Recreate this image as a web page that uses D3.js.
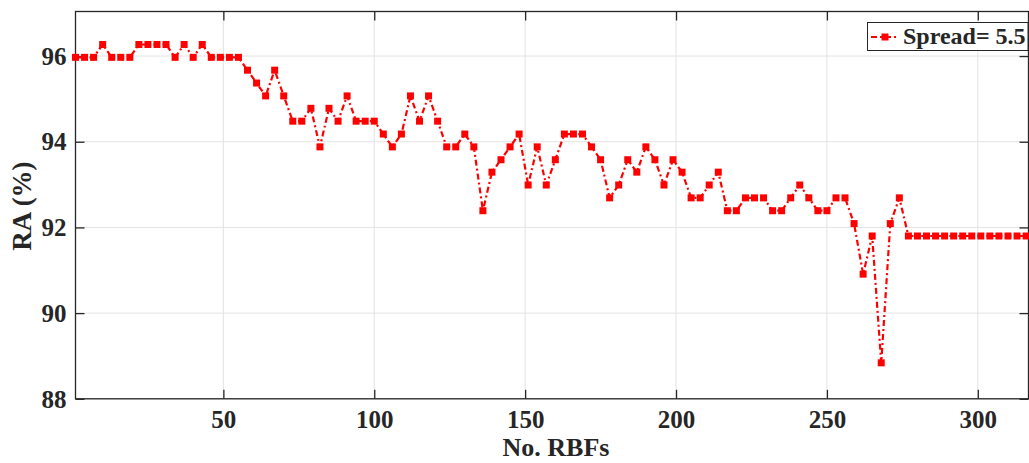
<!DOCTYPE html>
<html><head><meta charset="utf-8">
<script src="https://cdn.jsdelivr.net/npm/d3@7"></script>
<style>body{margin:0;background:#fff;} svg text{font-family:'Liberation Serif','Times New Roman',serif !important;font-weight:bold;fill:#262626;}</style>
</head><body>
<svg id="c" width="1029" height="463"></svg>
<script>
// Data
const xStart = 1, xStep = 3;
const raValues = [
 95.97,95.97,95.97,96.27,95.97,95.97,95.97,96.27,96.27,96.27,
 96.27,95.97,96.27,95.97,96.27,95.97,95.97,95.97,95.97,95.67,
 95.37,95.07,95.67,95.07,94.48,94.48,94.78,93.88,94.78,94.48,
 95.07,94.48,94.48,94.48,94.18,93.88,94.18,95.07,94.48,95.07,
 94.48,93.88,93.88,94.18,93.88,92.39,93.29,93.58,93.88,94.18,
 92.99,93.88,92.99,93.58,94.18,94.18,94.18,93.88,93.58,92.69,
 92.99,93.58,93.29,93.88,93.58,92.99,93.58,93.29,92.69,92.69,
 92.99,93.29,92.39,92.39,92.69,92.69,92.69,92.39,92.39,92.69,
 92.99,92.69,92.39,92.39,92.69,92.69,92.09,90.91,91.80,88.84,
 92.09,92.69,91.80,91.80,91.80,91.80,91.80,91.80,91.80,91.80,
 91.80,91.80,91.80,91.80,91.80,91.80
];
const rbfs = raValues.map((v,i)=> xStart + xStep*i);
const xTicks = [50,100,150,200,250,300];
const yTicks = [88,90,92,94,96];
const seriesName = "Spread= 5.5";

const svg = d3.select("#c");
const L=75.5, R=1028.5, T=11.5, B=398.8;
const x = d3.scaleLinear().domain([1,316.8]).range([L,R]);
const y = d3.scaleLinear().domain([88,97.04]).range([B,T]);

// grid
svg.append("g").selectAll("line").data(xTicks).join("line")
  .attr("x1",d=>x(d)).attr("x2",d=>x(d)).attr("y1",T).attr("y2",B)
  .attr("stroke","#e3e3e3").attr("stroke-width",1);
svg.append("g").selectAll("line").data(yTicks).join("line")
  .attr("y1",d=>y(d)).attr("y2",d=>y(d)).attr("x1",L).attr("x2",R)
  .attr("stroke","#e3e3e3").attr("stroke-width",1);

// axes
const gx = svg.append("g").attr("transform",`translate(0,${B})`)
  .call(d3.axisBottom(x).tickValues(xTicks).tickSizeInner(-9).tickSizeOuter(0).tickPadding(11));
const gxt = svg.append("g").attr("transform",`translate(0,${T})`)
  .call(d3.axisTop(x).tickValues(xTicks).tickSizeInner(-9).tickSizeOuter(0).tickFormat(""));
const gy = svg.append("g").attr("transform",`translate(${L},0)`)
  .call(d3.axisLeft(y).tickValues(yTicks).tickSizeInner(-9).tickSizeOuter(0).tickPadding(9));
const gyr = svg.append("g").attr("transform",`translate(${R},0)`)
  .call(d3.axisRight(y).tickValues(yTicks).tickSizeInner(-9).tickSizeOuter(0).tickFormat(""));
[gx,gxt,gy,gyr].forEach(g=>{
  g.attr("font-family",null).attr("font-size",null);
  g.select(".domain").remove();
  g.selectAll(".tick line").attr("stroke","#262626").attr("stroke-width",1.3);
  g.selectAll("text").attr("font-size","25px").attr("fill","#262626");
});
gx.selectAll("text").attr("dy","0.72em");
gy.selectAll("text").attr("dy","0.33em");
// box
svg.append("rect").attr("x",L).attr("y",T).attr("width",R-L).attr("height",B-T)
  .attr("fill","none").attr("stroke","#262626").attr("stroke-width",1.3);

// line
const line = d3.line().x((d,i)=>x(rbfs[i])).y(d=>y(d));
svg.append("path").datum(raValues).attr("d",line)
  .attr("fill","none").attr("stroke","#ff0000").attr("stroke-width",2.2)
  .attr("stroke-dasharray","6,3,2,3");
const ms=7;
svg.append("g").selectAll("rect").data(raValues).join("rect")
  .attr("x",(d,i)=>x(rbfs[i])-ms/2).attr("y",d=>y(d)-ms/2)
  .attr("width",ms).attr("height",ms).attr("fill","#ff0000");

// labels
svg.append("text").attr("x",556).attr("y",456).attr("text-anchor","middle")
  .attr("font-size","26px").text("No. RBFs");
svg.append("text").attr("transform","translate(31,206) rotate(-90)").attr("text-anchor","middle")
  .attr("font-size","27px").text("RA (%)");

// legend
const lg = svg.append("g");
lg.append("rect").attr("x",867.5).attr("y",22.5).attr("width",160.5).attr("height",28)
  .attr("fill","#fff").attr("stroke","#262626").attr("stroke-width",1);
lg.append("line").attr("x1",871).attr("x2",899).attr("y1",37).attr("y2",37)
  .attr("stroke","#ff0000").attr("stroke-width",2.2).attr("stroke-dasharray","6,3,2,3");
lg.append("rect").attr("x",885-ms/2).attr("y",37-ms/2).attr("width",ms).attr("height",ms).attr("fill","#ff0000");
lg.append("text").attr("x",903).attr("y",44).attr("font-size","24px").text(seriesName);
</script>
</body></html>
